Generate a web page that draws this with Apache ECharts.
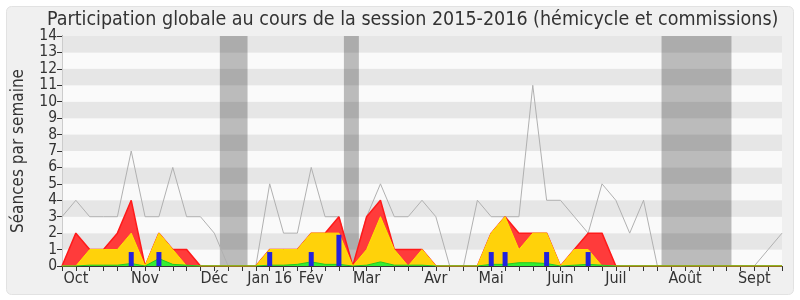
<!DOCTYPE html>
<html><head><meta charset="utf-8">
<script src="https://cdn.jsdelivr.net/npm/echarts@6/dist/echarts.min.js"></script>
<style>html,body{margin:0;padding:0;background:#fff}#c{width:800px;height:300px}</style>
</head><body><div id="c"></div>
<script>
// week index 0..52 (session 2015-2016, one point per week)
const weeks = Array.from({length: 53}, (_, i) => i);
const monthWeeks  = [1, 6, 11, 15, 18, 22, 27, 31, 36, 40, 45, 50];
const monthLabels = ['Oct','Nov','Déc','Jan 16','Fév','Mar','Avr','Mai','Juin','Juil','Août','Sept'];
const vacations = [[11.4, 13.4], [20.36, 21.44], [43.3, 48.35]];
const median = [3,4,3,3,3,7,3,3,6,3,3,2,0,0,0,5,2,2,6,3,3,0,3,5,3,3,4,3,0,0,4,3,3,3,11,4,4,3,2,5,4,2,4,0,0,0,0,0,0,0,0,1,2];
const presences = [0,2,1,1,2,4,0,2,1,1,0,0,0,0,0,1,1,1,2,2,3,0,3,4,1,1,1,0,0,0,0,2,3,2,2,2,0,1,2,2,0,0,0,0,0,0,0,0,0,0,0,0,0];
const participations = [0,0,1,1,1,2,0,2,1,0,0,0,0,0,0,1,1,1,2,2,2,0,1,3,1,0,1,0,0,0,0,2,3,1,2,2,0,1,1,0,0,0,0,0,0,0,0,0,0,0,0,0,0];
const interventions = [0,0,0.05,0.05,0.05,0.15,0,0.45,0.1,0.05,0,0,0,0,0,0.05,0.05,0.1,0.25,0.1,0.1,0,0.05,0.25,0.05,0.05,0.05,0,0,0,0,0.1,0.1,0.2,0.2,0.15,0,0.05,0.1,0.05,0,0,0,0,0,0,0,0,0,0,0,0,0];
const questions = [0,0,0,0,0,0.85,0,0.85,0,0,0,0,0,0,0,0.85,0,0,0.85,0,1.9,0,0,0,0,0,0,0,0,0,0,0.85,0.85,0,0,0.85,0,0,0.85,0,0,0,0,0,0,0,0,0,0,0,0,0,0];

const FONT = "'DejaVu Sans Condensed', 'DejaVu Sans', sans-serif";
const pair = arr => arr.map((v, i) => [weeks[i], v]);
const labelMap = {};
monthWeeks.forEach((w, k) => labelMap[w] = monthLabels[k]);

const chart = echarts.init(document.getElementById('c'), null, {renderer: 'canvas'});
chart.setOption({
  backgroundColor: '#ffffff',
  animation: false,
  graphic: [{
    type: 'rect', z: -10, silent: true,
    shape: {x: 6.5, y: 6.5, width: 787, height: 288, r: 5},
    style: {fill: '#f0f0f0', stroke: '#e2e2e2', lineWidth: 1}
  }],
  title: {
    text: 'Participation globale au cours de la session 2015-2016 (hémicycle et commissions)',
    left: 42, top: 5,
    textStyle: {fontFamily: FONT, fontSize: 19.5, fontWeight: 'normal', color: '#333'}
  },
  grid: {left: 62, right: 18, top: 36, bottom: 34, containLabel: false},
  xAxis: [{
    type: 'value', min: 0, max: 52, interval: 1,
    axisLine: {show: true, lineStyle: {color: '#333', width: 1}},
    axisTick: {show: true, length: 5, lineStyle: {color: '#333'}},
    splitLine: {show: false},
    axisLabel: {
      fontFamily: FONT, fontSize: 16, color: '#333', margin: 5,
      formatter: v => labelMap[v] || ''
    }
  }, {
    type: 'value', min: 0, max: 52, interval: 1, position: 'top',
    axisLine: {show: false},
    axisTick: {show: true, inside: true, length: 1, lineStyle: {color: '#444'}},
    axisLabel: {show: false}, splitLine: {show: false}
  }],
  yAxis: [{
    type: 'value', min: 0, max: 14, interval: 1,
    name: 'Séances par semaine', nameLocation: 'middle', nameGap: 35,
    nameTextStyle: {fontFamily: FONT, fontSize: 17, color: '#333'},
    axisLine: {show: true, lineStyle: {color: '#333'}},
    axisTick: {show: true, length: 5, lineStyle: {color: '#333'}},
    axisLabel: {fontFamily: FONT, fontSize: 15.5, color: '#333', margin: 5},
    splitLine: {show: false},
    splitArea: {show: true, areaStyle: {color: ['#fafafa', '#e6e6e6']}}
  }, {
    type: 'value', min: 0, max: 14, interval: 1, position: 'right',
    axisLine: {show: true, lineStyle: {color: '#cccccc'}},
    axisTick: {show: false}, axisLabel: {show: false}, splitLine: {show: false}
  }],
  series: [
    {
      name: 'vacances', type: 'line', data: [], z: 1, silent: true,
      markArea: {
        silent: true,
        itemStyle: {color: 'rgba(0,0,0,0.25)'},
        data: vacations.map(b => [{xAxis: b[0]}, {xAxis: b[1]}])
      }
    },
    {
      name: 'médiane', type: 'line', data: pair(median), z: 2,
      symbol: 'none', lineStyle: {color: '#b0b0b0', width: 1}
    },
    {
      name: 'présences', type: 'line', data: pair(presences), z: 3,
      symbol: 'none', lineStyle: {color: '#ff1a1a', width: 1.5},
      areaStyle: {color: '#ff3b3b', opacity: 1}
    },
    {
      name: 'participations', type: 'line', data: pair(participations), z: 4,
      symbol: 'none', lineStyle: {color: '#ffe400', width: 1},
      areaStyle: {color: '#ffd20a', opacity: 1}
    },
    {
      name: 'interventions', type: 'line', data: pair(interventions), z: 5,
      symbol: 'none', lineStyle: {color: '#22cc22', width: 1},
      areaStyle: {color: '#33ee33', opacity: 1}
    },
    {
      name: 'questions', type: 'bar', data: pair(questions), z: 6,
      barWidth: 5, itemStyle: {color: '#2222dd'}
    }
  ]
});
</script></body></html>
